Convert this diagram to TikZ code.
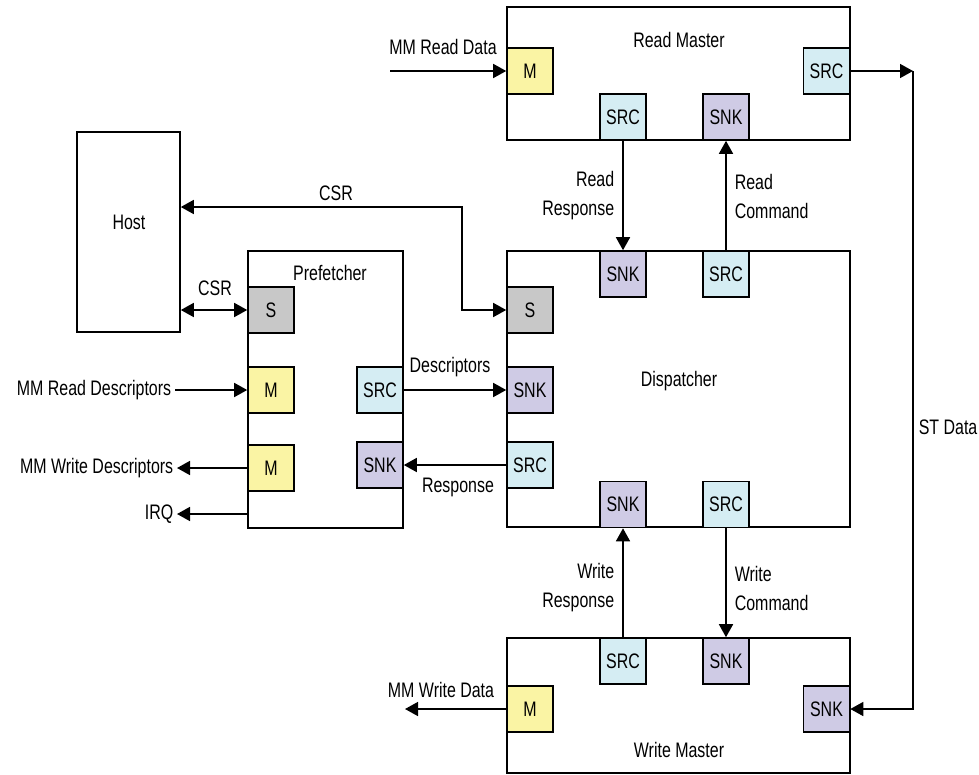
\documentclass[tikz,border=0pt]{standalone}
\usepackage{fontspec}
\setmainfont{Liberation Sans}[FakeStretch=0.76]
\usetikzlibrary{arrows.meta,fit}
\definecolor{mfill}{RGB}{250,244,164}
\definecolor{srcfill}{RGB}{213,237,243}
\definecolor{snkfill}{RGB}{207,203,229}
\definecolor{sfill}{RGB}{200,200,200}
\tikzset{
	txt/.style={font=\fontsize{21}{29}\selectfont, inner sep=3pt},
	blk/.style={draw, inner sep=0pt},
	port/.style={draw, txt, minimum width=46pt, minimum height=46pt, inner sep=0pt},
	mport/.style={port, fill=mfill},
	srcport/.style={port, fill=srcfill},
	snkport/.style={port, fill=snkfill},
	sport/.style={port, fill=sfill},
	sig/.style={-{Triangle[length=13pt,width=14pt]}},
	bisig/.style={{Triangle[length=13pt,width=14pt]}-{Triangle[length=13pt,width=14pt]}}
}
\begin{document}
\begin{tikzpicture}[x=1pt, y=-1pt, line width=1.6pt]
	\useasboundingbox (0,0) rectangle (979,774);
	\node [blk, fit={(507,7) (850,140)}] (rm) {};
	\node [blk, fit={(77,132) (180,332)}] (host) {};
	\node [blk, fit={(248,251) (403,528)}] (pf) {};
	\node [blk, fit={(507,251) (850,527)}] (disp) {};
	\node [blk, fit={(507,638) (850,773)}] (wm) {};
	\node [txt] (rmt) at (679,40) {Read Master};
	\node [txt] (hostt) at (129,222) {Host};
	\node [txt] (pft) at (330,273) {Prefetcher};
	\node [txt] (dispt) at (679,381) {Dispatcher};
	\node [txt] (wmt) at (679,750) {Write Master};
	\node [mport] (rmM) at (530,71) {M};
	\node [srcport] (rmSRC) at (623,117) {SRC};
	\node [snkport] (rmSNK) at (726,117) {SNK};
	\node [srcport] (rmOut) at (826.5,71) {SRC};
	\node [snkport] (dSNKt) at (623,274) {SNK};
	\node [srcport] (dSRCt) at (726,274) {SRC};
	\node [sport] (dS) at (530,310) {S};
	\node [snkport] (dSNKl) at (530,390) {SNK};
	\node [srcport] (dSRCl) at (530,465) {SRC};
	\node [snkport] (dSNKb) at (623,504.5) {SNK};
	\node [srcport] (dSRCb) at (726,504.5) {SRC};
	\node [sport] (pS) at (271,310) {S};
	\node [mport] (pM1) at (271,390) {M};
	\node [mport] (pM2) at (271,468) {M};
	\node [srcport] (pSRC) at (380,390) {SRC};
	\node [snkport] (pSNK) at (380,465) {SNK};
	\node [srcport] (wmSRC) at (623,661) {SRC};
	\node [snkport] (wmSNK) at (726,661) {SNK};
	\node [mport] (wmM) at (530,709) {M};
	\node [snkport] (wmIn) at (826.5,709) {SNK};
	\coordinate (rdin) at (390,71);
	\coordinate (stbend) at (913,71);
	\coordinate (csrbend) at (462,207);
	\coordinate (wdout) at (405,709);
	\node [txt] (rdl) at (443,47) {MM Read Data};
	\node [txt, anchor=west] (stl) at (915,427) {ST Data};
	\node [txt, anchor=east, align=right] (rrl) at (618,196) {Read\\Response};
	\node [txt, anchor=west, align=left] (rcl) at (731,196) {Read\\Command};
	\node [txt, anchor=east, align=right] (wrl) at (618,588) {Write\\Response};
	\node [txt, anchor=west, align=left] (wcl) at (731,588) {Write\\Command};
	\node [txt] (csr1) at (336,193) {CSR};
	\node [txt] (csr2) at (215,288) {CSR};
	\node [txt] (descl) at (450,367) {Descriptors};
	\node [txt] (respl) at (458,487) {Response};
	\node [txt, anchor=east] (rdd) at (175,390) {MM Read Descriptors};
	\node [txt, anchor=east] (wdd) at (177,468) {MM Write Descriptors};
	\node [txt, anchor=east] (irq) at (177,514) {IRQ};
	\node [txt] (wdl) at (441,690) {MM Write Data};
	\draw [sig] (rdin) -- (rmM);
	\draw [sig] (rmOut) -- (stbend);
	\draw [sig] (stbend) |- (wmIn);
	\draw [sig] (rmSRC) -- (dSNKt);
	\draw [sig] (dSRCt) -- (rmSNK);
	\draw [bisig] (host.east |- csrbend) -- (csrbend) |- (dS);
	\draw [bisig] (host.east |- pS) -- (pS);
	\draw [sig] (rdd) -- (pM1);
	\draw [sig] (pM2) -- (wdd);
	\draw [sig] (pf.west |- irq) -- (irq);
	\draw [sig] (pSRC) -- (dSNKl);
	\draw [sig] (dSRCl) -- (pSNK);
	\draw [sig] (wmSRC) -- (dSNKb);
	\draw [sig] (dSRCb) -- (wmSNK);
	\draw [sig] (wmM) -- (wdout);
\end{tikzpicture}
\end{document}
